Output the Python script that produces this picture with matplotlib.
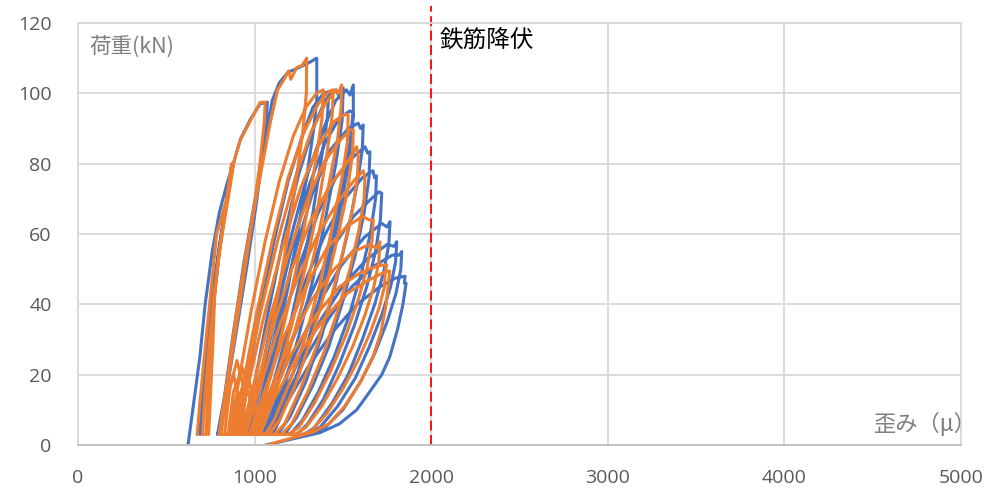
# load-strain hysteresis of two gauges, with the rebar yield line
import numpy as np
import matplotlib.pyplot as plt

plt.rcParams['font.family'] = ['Open Sans', 'Noto Sans CJK JP', 'DejaVu Sans']

# (strain [μ], load [kN]), one row per half cycle
blue_path = [
    (623, 0), (655, 12), (690, 25), (720, 40), (760, 55), (800, 66), (842, 74), (878, 80),
    (870, 77), (825, 64), (775, 47), (735, 30), (705, 14), (692, 3),
    (720, 20), (755, 38), (795, 55), (845, 71), (880, 80), (920, 87), (975, 92.5), (1031, 97), (1072, 97.5),
    (1068, 93), (1045, 82), (1005, 67), (960, 52), (915, 38), (870, 24), (830, 12), (800, 4), (790, 3),
    (830, 14), (880, 32), (940, 52), (1010, 72), (1065, 88), (1100, 98), (1140, 103), (1189, 106), (1238, 107), (1300, 108.5), (1352, 110),
    (1352, 98), (1335, 90), (1300, 78), (1250, 62), (1190, 45), (1120, 28), (1050, 14), (990, 5), (960, 3),
    (910, 3), (960, 18), (1030, 38), (1110, 58), (1190, 75), (1270, 88), (1330, 96), (1390, 100), (1420, 100.5),
    (1412, 93), (1380, 82), (1330, 66), (1270, 50), (1200, 34), (1130, 20), (1060, 9), (1010, 3),
    (940, 3), (990, 15), (1070, 36), (1160, 58), (1250, 77), (1330, 90), (1400, 98), (1460, 101), (1480, 99), (1502, 101.5),
    (1495, 92), (1460, 80), (1400, 64), (1330, 47), (1250, 31), (1170, 17), (1090, 7), (1040, 3),
    (960, 3), (1010, 14), (1100, 36), (1200, 58), (1300, 77), (1390, 90), (1460, 98), (1520, 101), (1540, 99.5), (1559, 102.4),
    (1559, 95), (1540, 86), (1500, 74), (1440, 58), (1370, 42), (1290, 27), (1200, 14), (1120, 5), (1080, 3),
    (970, 3), (1020, 14), (1110, 35), (1210, 56), (1310, 74), (1400, 86), (1480, 93), (1540, 95), (1560, 94.5),
    (1552, 88), (1525, 78), (1475, 64), (1405, 48), (1320, 32), (1230, 18), (1140, 7), (1100, 3),
    (990, 3), (1040, 14), (1130, 35), (1230, 55), (1330, 72), (1430, 84), (1530, 90), (1587, 91.5), (1600, 90), (1615, 91),
    (1610, 84), (1580, 74), (1530, 61), (1460, 46), (1380, 31), (1290, 18), (1200, 8), (1130, 3),
    (1000, 3), (1060, 14), (1160, 35), (1260, 52), (1360, 66), (1460, 76), (1560, 82), (1625, 84.8), (1640, 83), (1653, 83.4),
    (1648, 76), (1620, 66), (1570, 54), (1500, 41), (1420, 28), (1330, 17), (1240, 8), (1170, 3),
    (1020, 3), (1080, 13), (1180, 31), (1290, 47), (1400, 60), (1510, 70), (1610, 76), (1670, 78), (1680, 76), (1690, 76.5),
    (1685, 70), (1655, 60), (1605, 49), (1530, 36), (1450, 25), (1360, 15), (1270, 7), (1200, 3),
    (1030, 3), (1090, 12), (1200, 28), (1320, 43), (1440, 56), (1560, 65), (1660, 70), (1705, 72), (1720, 71.6),
    (1712, 64), (1685, 55), (1635, 45), (1565, 34), (1480, 23), (1390, 13), (1300, 6), (1240, 3),
    (1050, 3), (1110, 11), (1230, 26), (1360, 40), (1490, 51), (1620, 59), (1720, 63), (1750, 62), (1767, 63.5),
    (1760, 57), (1730, 49), (1680, 40), (1610, 30), (1530, 20), (1440, 12), (1340, 5), (1280, 3),
    (1070, 3), (1130, 11), (1250, 24), (1380, 36), (1510, 46), (1640, 53), (1750, 57), (1790, 56.5), (1805, 57.8),
    (1798, 52), (1770, 45), (1720, 37), (1650, 28), (1570, 19), (1470, 11), (1370, 5), (1300, 3),
    (1080, 3), (1150, 11), (1280, 24), (1420, 36), (1550, 45), (1680, 51), (1780, 54), (1820, 54), (1833, 55),
    (1828, 50), (1800, 43), (1750, 35), (1680, 26), (1600, 18), (1500, 10), (1400, 5), (1320, 3),
    (1090, 3), (1170, 11), (1300, 22), (1440, 32), (1580, 40), (1710, 45), (1800, 47.5), (1852, 48), (1848, 46), (1858, 46),
    (1840, 40), (1810, 33), (1765, 25), (1720, 20), (1650, 15), (1578, 10), (1480, 6), (1370, 3.5), (1065, 0),
]

orange_path = [
    (675, 3), (690, 12), (715, 25), (745, 40), (785, 60), (842, 70), (870, 80),
    (862, 76), (820, 62), (780, 46), (745, 30), (720, 15), (705, 3),
    (725, 3), (740, 18), (760, 35), (775, 45), (765, 30), (748, 12), (740, 3),
    (730, 18), (765, 38), (800, 55), (850, 70), (885, 81), (917, 86.5), (974, 92), (1031, 97.4), (1060, 97.5),
    (1055, 92), (1030, 80), (990, 65), (945, 50), (900, 35), (855, 20), (815, 8), (800, 3),
    (835, 15), (890, 35), (960, 57), (1030, 76), (1090, 92), (1130, 101), (1161, 103.5), (1193, 106.4), (1205, 104), (1238, 107.3), (1270, 108), (1295, 110),
    (1293, 100), (1275, 90), (1240, 77), (1190, 60), (1130, 42), (1060, 25), (990, 11), (940, 4), (920, 3),
    (860, 3), (910, 18), (980, 38), (1060, 58), (1140, 75), (1220, 88), (1290, 96), (1350, 100), (1389, 101),
    (1382, 93), (1350, 82), (1300, 67), (1240, 51), (1170, 35), (1100, 21), (1030, 9), (980, 3),
    (810, 3), (840, 14), (880, 20), (920, 12), (880, 3),
    (880, 3), (930, 16), (1010, 37), (1100, 58), (1190, 76), (1280, 89), (1360, 97), (1420, 100.5), (1445, 101),
    (1440, 94), (1410, 83), (1360, 68), (1290, 51), (1210, 34), (1130, 20), (1050, 8), (1000, 3),
    (890, 3), (940, 15), (1030, 37), (1130, 58), (1230, 76), (1320, 89), (1400, 97), (1460, 101), (1475, 100), (1493, 102.4),
    (1490, 96), (1470, 87), (1420, 74), (1350, 57), (1270, 40), (1180, 24), (1090, 11), (1030, 3),
    (830, 3), (860, 16), (900, 24), (950, 14), (920, 3),
    (900, 3), (950, 14), (1050, 36), (1150, 55), (1260, 73), (1360, 85), (1450, 92), (1510, 94), (1530, 94),
    (1525, 86), (1495, 76), (1440, 62), (1370, 46), (1290, 31), (1200, 18), (1110, 7), (1060, 3),
    (920, 3), (980, 14), (1080, 35), (1190, 54), (1300, 70), (1400, 81), (1490, 87), (1540, 89.6), (1559, 89.6),
    (1555, 83), (1525, 72), (1470, 59), (1400, 44), (1320, 30), (1230, 17), (1140, 7), (1080, 3),
    (850, 3), (880, 15), (930, 22), (980, 12), (940, 3),
    (930, 3), (990, 13), (1100, 33), (1210, 50), (1320, 64), (1430, 74), (1520, 80), (1578, 84.8), (1587, 82),
    (1582, 76), (1555, 67), (1500, 55), (1430, 41), (1350, 28), (1260, 16), (1170, 6), (1110, 3),
    (870, 3), (900, 12), (960, 20), (1010, 10), (980, 3),
    (950, 3), (1010, 13), (1120, 31), (1240, 47), (1360, 60), (1470, 69), (1560, 75), (1615, 78), (1625, 76),
    (1620, 70), (1590, 61), (1540, 50), (1470, 38), (1390, 26), (1300, 15), (1210, 6), (1150, 3),
    (970, 3), (1040, 13), (1160, 30), (1290, 45), (1410, 56), (1520, 62), (1610, 65), (1650, 64), (1672, 64),
    (1665, 58), (1635, 50), (1585, 41), (1515, 31), (1430, 21), (1340, 12), (1250, 5), (1190, 3),
    (990, 3), (1060, 12), (1190, 28), (1320, 41), (1450, 50), (1560, 55), (1650, 57), (1690, 56), (1710, 57.8),
    (1703, 52), (1675, 45), (1625, 37), (1555, 28), (1470, 19), (1380, 11), (1290, 5), (1230, 3),
    (1010, 3), (1080, 12), (1210, 26), (1350, 37), (1480, 45), (1600, 49), (1700, 51), (1748, 51.2), (1740, 49),
    (1735, 45), (1705, 39), (1655, 32), (1585, 24), (1500, 16), (1410, 9), (1320, 4), (1270, 3),
    (1030, 3), (1100, 12), (1240, 25), (1380, 35), (1520, 43), (1650, 47), (1730, 49), (1765, 49.5), (1760, 47),
    (1745, 40), (1715, 32), (1670, 25), (1600, 18), (1510, 11), (1420, 6), (1333, 3.7), (1070, 0),
]

yield_strain = 2000
x_ticks = [0, 1000, 2000, 3000, 4000, 5000]
y_ticks = [0, 20, 40, 60, 80, 100, 120]

blue = np.array(blue_path)
orange = np.array(orange_path)

fig = plt.figure(figsize=(9.95, 4.93), dpi=100)
ax = fig.add_axes([78 / 995, 48 / 493, 883 / 995, 422 / 493])

ax.plot(blue[:, 0], blue[:, 1], color='#4472c4', lw=2.2, solid_joinstyle='round')
ax.plot(orange[:, 0], orange[:, 1], color='#ed7d31', lw=2.2, solid_joinstyle='round')

# yield line goes a bit above the frame
ax.plot([yield_strain, yield_strain], [0, 124.7], color='red', lw=1.3,
        linestyle=(0, (5.5, 2.5)), clip_on=False)
ax.text(2050, 115.2, '鉄筋降伏', fontsize=17, color='black', va='center',
        family=['Noto Sans CJK JP', 'DejaVu Sans'])

ax.text(0.0125, 0.945, '荷重(kN)', transform=ax.transAxes, fontsize=15.5,
        color='#7f7f7f', va='center', family=['Noto Sans CJK JP', 'DejaVu Sans'])
ax.text(1.018, 0.05, '歪み（μ）', transform=ax.transAxes, fontsize=16,
        color='#7f7f7f', va='center', ha='right', family=['Noto Sans CJK JP', 'DejaVu Sans'])

ax.set_xlim(0, 5000)
ax.set_ylim(0, 120)
ax.set_xticks(x_ticks)
ax.set_yticks(y_ticks)
ax.grid(True, color='#d9d9d9', lw=1.3)
ax.set_axisbelow(True)
ax.tick_params(length=0, labelsize=14, labelcolor='#595959')
ax.tick_params(axis='x', pad=17)
ax.tick_params(axis='y', pad=19)
for s in ax.spines.values():
    s.set_color('#d9d9d9')
    s.set_linewidth(1.3)
ax.spines['bottom'].set_color('#bfbfbf')

fig.savefig('out.png', dpi=100)
